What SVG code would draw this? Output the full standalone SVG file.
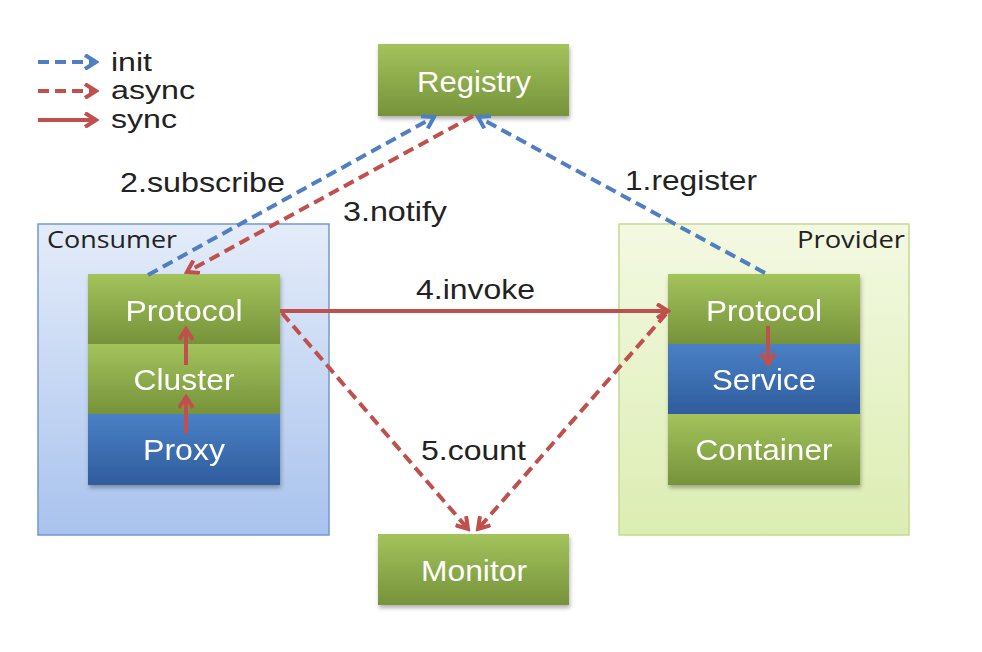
<svg xmlns="http://www.w3.org/2000/svg" width="982" height="652" viewBox="0 0 982 652">
<style>
.node text{font-family:"Liberation Sans",Arial,sans-serif;font-size:30px;fill:#ffffff;text-anchor:middle}
.lbl{font-family:"Liberation Sans",Arial,sans-serif;font-size:28px;fill:#222222}
.leg{font-family:"Liberation Sans",Arial,sans-serif;font-size:25px;fill:#222222}
.grp{font-family:"Open Sans","Liberation Sans",sans-serif;font-size:24px;fill:#222222}
.g{fill:url(#gGreen)}
.b{fill:url(#gBlue)}
.init{stroke:#4f7fc0;stroke-width:4;fill:none;stroke-dasharray:11 6}
.async{stroke:#c0504d;stroke-width:4;fill:none;stroke-dasharray:11 6}
.sync{stroke:#c0504d;stroke-width:4;fill:none}
</style>
<defs>
<linearGradient id="gGreen" x1="0" y1="0" x2="0" y2="1">
<stop offset="0" stop-color="#a3c35c"/>
<stop offset="1" stop-color="#76933a"/>
</linearGradient>
<linearGradient id="gBlue" x1="0" y1="0" x2="0" y2="1">
<stop offset="0" stop-color="#4a80c6"/>
<stop offset="1" stop-color="#2f5c9c"/>
</linearGradient>
<linearGradient id="gCons" x1="0" y1="0" x2="0" y2="1">
<stop offset="0" stop-color="#e4ecf9"/>
<stop offset="1" stop-color="#a9c3ee"/>
</linearGradient>
<linearGradient id="gProv" x1="0" y1="0" x2="0" y2="1">
<stop offset="0" stop-color="#f3f9e2"/>
<stop offset="1" stop-color="#dcedb2"/>
</linearGradient>
<filter id="sh" x="-10%" y="-10%" width="130%" height="140%">
<feDropShadow dx="1" dy="3" stdDeviation="2" flood-color="#000" flood-opacity="0.3"/>
</filter>
<marker id="aBlue" markerUnits="userSpaceOnUse" viewBox="0 0 16 16" markerWidth="16" markerHeight="16" refX="13" refY="8" orient="auto">
<path d="M2,1 L13,8 L2,15" fill="none" stroke="#4f7fc0" stroke-width="4" stroke-dasharray="none"/>
</marker>
<marker id="aRed" markerUnits="userSpaceOnUse" viewBox="0 0 16 16" markerWidth="16" markerHeight="16" refX="13" refY="8" orient="auto">
<path d="M2,1 L13,8 L2,15" fill="none" stroke="#c0504d" stroke-width="4" stroke-dasharray="none"/>
</marker>
</defs>
<rect width="982" height="652" fill="#ffffff"/>

<g id="legend">
<line class="init" x1="38" y1="62" x2="96" y2="62" marker-end="url(#aBlue)"/>
<text class="leg" x="111" y="71" textLength="41" lengthAdjust="spacingAndGlyphs">init</text>
<line class="async" x1="38" y1="91" x2="96" y2="91" marker-end="url(#aRed)"/>
<text class="leg" x="111" y="99" textLength="84" lengthAdjust="spacingAndGlyphs">async</text>
<line class="sync" x1="38" y1="120" x2="96" y2="120" marker-end="url(#aRed)"/>
<text class="leg" x="111" y="128" textLength="66" lengthAdjust="spacingAndGlyphs">sync</text>
</g>

<g id="consumer">
<rect x="38" y="224" width="291" height="311" fill="url(#gCons)" stroke="#7497cf" stroke-width="1.5"/>
<text class="grp" x="47" y="248" textLength="130" lengthAdjust="spacingAndGlyphs">Consumer</text>
</g>
<g id="provider">
<rect x="619" y="224" width="290" height="311" fill="url(#gProv)" stroke="#c3da8f" stroke-width="1.5"/>
<text class="grp" x="905" y="248" text-anchor="end" textLength="108" lengthAdjust="spacingAndGlyphs">Provider</text>
</g>

<g id="registry" class="node">
<rect class="g" x="378" y="44" width="191" height="72" filter="url(#sh)"/>
<text x="474" y="92" textLength="114" lengthAdjust="spacingAndGlyphs">Registry</text>
</g>
<g id="monitor" class="node">
<rect class="g" x="378" y="534" width="191" height="71" filter="url(#sh)"/>
<text x="474" y="581" textLength="106" lengthAdjust="spacingAndGlyphs">Monitor</text>
</g>

<g id="consumer-stack" filter="url(#sh)">
<g id="c-protocol" class="node">
<rect class="g" x="88" y="274" width="192" height="70"/>
<text x="184" y="321" textLength="117" lengthAdjust="spacingAndGlyphs">Protocol</text>
</g>
<g id="c-cluster" class="node">
<rect class="g" x="88" y="344" width="192" height="70"/>
<text x="184" y="390" textLength="101" lengthAdjust="spacingAndGlyphs">Cluster</text>
</g>
<g id="c-proxy" class="node">
<rect class="b" x="88" y="414" width="192" height="71"/>
<text x="184" y="460" textLength="82" lengthAdjust="spacingAndGlyphs">Proxy</text>
</g>
</g>

<g id="provider-stack" filter="url(#sh)">
<g id="p-protocol" class="node">
<rect class="g" x="668" y="274" width="192" height="70"/>
<text x="764" y="321" textLength="116" lengthAdjust="spacingAndGlyphs">Protocol</text>
</g>
<g id="p-service" class="node">
<rect class="b" x="668" y="344" width="192" height="70"/>
<text x="764" y="390" textLength="104" lengthAdjust="spacingAndGlyphs">Service</text>
</g>
<g id="p-container" class="node">
<rect class="g" x="668" y="414" width="192" height="71"/>
<text x="764" y="460" textLength="137" lengthAdjust="spacingAndGlyphs">Container</text>
</g>
</g>

<g id="connectors">
<line class="init" x1="148" y1="275" x2="434" y2="117" marker-end="url(#aBlue)"/>
<line class="async" x1="473" y1="116" x2="187" y2="272" marker-end="url(#aRed)"/>
<line class="init" x1="765" y1="273" x2="478" y2="117" marker-end="url(#aBlue)"/>
<line class="sync" x1="280" y1="311" x2="668" y2="311" marker-end="url(#aRed)"/>
<line class="async" x1="282" y1="313" x2="468" y2="529" marker-end="url(#aRed)"/>
<line class="async" x1="666" y1="314" x2="478" y2="529" marker-end="url(#aRed)"/>
<line class="sync" x1="186" y1="433" x2="186" y2="397" marker-end="url(#aRed)"/>
<line class="sync" x1="186" y1="365" x2="186" y2="329" marker-end="url(#aRed)"/>
<line class="sync" x1="768" y1="326" x2="768" y2="364" marker-end="url(#aRed)"/>
</g>

<g id="labels">
<text class="lbl" x="120" y="192" textLength="165" lengthAdjust="spacingAndGlyphs">2.subscribe</text>
<text class="lbl" x="343" y="221" textLength="104" lengthAdjust="spacingAndGlyphs">3.notify</text>
<text class="lbl" x="625" y="190" textLength="132" lengthAdjust="spacingAndGlyphs">1.register</text>
<text class="lbl" x="416" y="299" textLength="119" lengthAdjust="spacingAndGlyphs">4.invoke</text>
<text class="lbl" x="421" y="460" textLength="105" lengthAdjust="spacingAndGlyphs">5.count</text>
</g>
</svg>
